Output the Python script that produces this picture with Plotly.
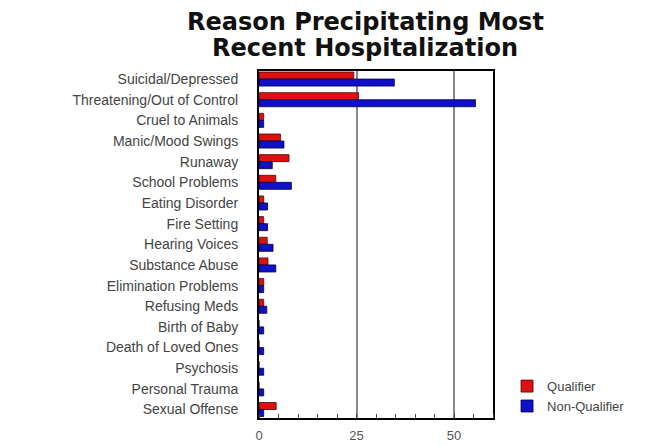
import plotly.graph_objects as go

categories = ["Suicidal/Depressed", "Threatening/Out of Control", "Cruel to Animals",
              "Manic/Mood Swings", "Runaway", "School Problems", "Eating Disorder",
              "Fire Setting", "Hearing Voices", "Substance Abuse", "Elimination Problems",
              "Refusing Meds", "Birth of Baby", "Death of Loved Ones", "Psychosis",
              "Personal Trauma", "Sexual Offense"]
qualifier = [24.3, 25.5, 1.2, 5.5, 7.7, 4.3, 1.2, 1.2, 2.1, 2.3, 1.2, 1.2, 0, 0, 0, 0, 4.4]
non_qualifier = [34.7, 55.5, 1.2, 6.4, 3.4, 8.3, 2.2, 2.2, 3.6, 4.3, 1.2, 2.0, 1.2, 1.2, 1.2, 1.2, 1.2]
x_ticks = [0, 25, 50]
title_lines = ["Reason Precipitating Most", "Recent Hospitalization"]

fig = go.Figure()
fig.add_trace(go.Bar(y=categories, x=qualifier, orientation="h", name="Qualifier",
                     marker=dict(color="#DD1111", line=dict(color="#550000", width=0.8))))
fig.add_trace(go.Bar(y=categories, x=non_qualifier, orientation="h", name="Non-Qualifier",
                     marker=dict(color="#1010C8", line=dict(color="#000044", width=0.8))))

# Title as two centred lines
for text, ypos in zip(title_lines, [1.142, 1.066]):
    fig.add_annotation(text="<b>%s</b>" % text, xref="paper", yref="paper",
                       x=0.453, y=ypos, xanchor="center", yanchor="middle",
                       showarrow=False,
                       font=dict(family="DejaVu Sans", size=24, color="#111111"))

fig.update_layout(
    width=656, height=446,
    margin=dict(l=259, r=163, t=71, b=28, autoexpand=False),
    paper_bgcolor="white", plot_bgcolor="white",
    barmode="group", bargap=0.32, bargroupgap=0,
    font=dict(family="Liberation Sans, Arial", size=14, color="#444444"),
    showlegend=True,
    legend=dict(x=1.06, xanchor="left", y=0.135, yanchor="top",
                font=dict(size=13, color="#444444"), traceorder="normal",
                bgcolor="rgba(0,0,0,0)", itemwidth=30, tracegroupgap=2),
    xaxis=dict(range=[0, 60], tickvals=x_ticks, ticktext=[str(v) for v in x_ticks],
               showgrid=True, gridcolor="#888888", gridwidth=2,
               showline=True, linecolor="black", linewidth=2, mirror=True,
               ticks="", zeroline=False, ticklabelstandoff=4, automargin=False,
               minor=dict(dtick=5, tick0=0, ticks="inside", ticklen=4, tickcolor="#444444",
                          showgrid=False),
               tickfont=dict(size=13, color="#555555")),
    yaxis=dict(range=[16.41, -0.39], categoryorder="array", categoryarray=categories,
               showline=True, linecolor="black", linewidth=2, automargin=False,
               mirror=True, ticks="", showgrid=False, ticklabelstandoff=16,
               tickfont=dict(size=14, color="#444444")),
)

fig.write_html("out.html")
